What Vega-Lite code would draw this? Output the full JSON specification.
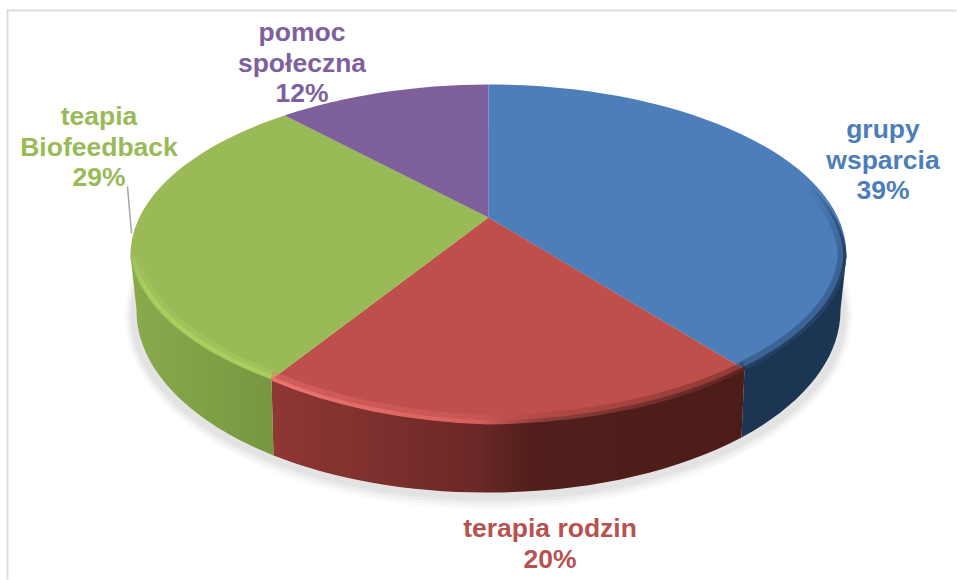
{"$schema":"https://vega.github.io/schema/vega-lite/v6.json","width":957,"height":580,"autosize":{"type":"fit","contains":"padding"},"padding":0,"background":"white","config":{"view":{"stroke":null}},"data":{"values":[{"kategoria":"grupy wsparcia","udzial":39,"etykieta":"grupy\nwsparcia\n39%"},{"kategoria":"terapia rodzin","udzial":20,"etykieta":"terapia rodzin\n20%"},{"kategoria":"teapia Biofeedback","udzial":29,"etykieta":"teapia\nBiofeedback\n29%"},{"kategoria":"pomoc społeczna","udzial":12,"etykieta":"pomoc\nspołeczna\n12%"}]},"layer":[
{"data":{"values":[{"element":"ramka"}]},"mark":{"type":"point","xOffset":3,"yOffset":3,"filled":false,"size":4,"opacity":1,"stroke":"#dcdcdc","strokeWidth":2,"shape":"M-470.5,290 L-470.5,-279 L478.5,-279"},"encoding":{}},
{"data":{"values":[{"element":"cien"}]},"mark":{"type":"point","xOffset":3,"yOffset":3,"filled":true,"size":4,"opacity":0.02,"fill":"#000000","shape":"M-353.5,26 A364,194 0 1 1 374.5,26 A364,194 0 1 1 -353.5,26 Z"},"encoding":{}},
{"data":{"values":[{"element":"cien"}]},"mark":{"type":"point","xOffset":3,"yOffset":3,"filled":true,"size":4,"opacity":0.025,"fill":"#000000","shape":"M-351.5,26 A362,191 0 1 1 372.5,26 A362,191 0 1 1 -351.5,26 Z"},"encoding":{}},
{"data":{"values":[{"element":"cien"}]},"mark":{"type":"point","xOffset":3,"yOffset":3,"filled":true,"size":4,"opacity":0.03,"fill":"#000000","shape":"M-349.5,26 A360,188 0 1 1 370.5,26 A360,188 0 1 1 -349.5,26 Z"},"encoding":{}},
{"data":{"values":[{"element":"cien"}]},"mark":{"type":"point","xOffset":3,"yOffset":3,"filled":true,"size":4,"opacity":0.035,"fill":"#000000","shape":"M-347.5,26 A358,185 0 1 1 368.5,26 A358,185 0 1 1 -347.5,26 Z"},"encoding":{}},
{"transform":[{"filter":"datum.kategoria === 'grupy wsparcia'"}],"mark":{"type":"point","xOffset":3,"yOffset":3,"filled":true,"size":4,"opacity":1,"fill":"#1c3553","shape":"M368.5,-34 L362.5,20 A352,183 0 0 1 263.5,148 L266.5,80 Z"},"encoding":{}},
{"transform":[{"filter":"datum.kategoria === 'terapia rodzin'"}],"mark":{"type":"point","xOffset":3,"yOffset":3,"filled":true,"size":4,"opacity":1,"fill":{"gradient":"linear","x1":0,"y1":0,"x2":1,"y2":0,"stops":[{"offset":0,"color":"#8f3734"},{"offset":0.2,"color":"#7f312e"},{"offset":0.44,"color":"#6b2827"},{"offset":0.55,"color":"#521f1c"},{"offset":1,"color":"#4b1c18"}]},"shape":"M266.5,80 L263.5,148 A352,183 0 0 1 10.5,203 A352,183 0 0 1 -204.5,166 L-206.5,90 Z"},"encoding":{}},
{"transform":[{"filter":"datum.kategoria === 'teapia Biofeedback'"}],"mark":{"type":"point","xOffset":3,"yOffset":3,"filled":true,"size":4,"opacity":1,"fill":{"gradient":"linear","x1":0,"y1":0,"x2":1,"y2":0,"stops":[{"offset":0,"color":"#88aa4c"},{"offset":1,"color":"#78963f"}]},"shape":"M-206.5,90 L-204.5,166 A352,183 0 0 1 -341.5,20 L-347.5,-34 Z"},"encoding":{}},
{"mark":{"type":"point","xOffset":3,"yOffset":3,"filled":true,"size":4,"opacity":1},"encoding":{"shape":{"field":"kategoria","type":"nominal","legend":null,"scale":{"domain":["grupy wsparcia","terapia rodzin","teapia Biofeedback","pomoc społeczna"],"range":["M10.5,-72 L10.5,-205 A358,170 0 0 1 368.5,-34 A358,170 0 0 1 266.5,80 Z","M10.5,-72 L266.5,80 A358,170 0 0 1 10.5,134 A358,170 0 0 1 -206.5,90 Z","M10.5,-72 L-206.5,90 A358,170 0 0 1 -347.5,-32 A358,170 0 0 1 -193.5,-174 Z","M10.5,-72 L-193.5,-174 A358,170 0 0 1 10.5,-205 Z"]}},"fill":{"field":"kategoria","type":"nominal","legend":null,"scale":{"domain":["grupy wsparcia","terapia rodzin","teapia Biofeedback","pomoc społeczna"],"range":["#4d7eba","#be4f4b","#9aba58","#7e609d"]}}}},
{"transform":[{"filter":"datum.kategoria === 'teapia Biofeedback'"}],"mark":{"type":"point","xOffset":3,"yOffset":3,"filled":false,"size":4,"opacity":0.4,"stroke":{"gradient":"linear","x1":0,"y1":0,"x2":0,"y2":1,"stops":[{"offset":0,"color":"rgba(168,210,95,0.2)"},{"offset":0.3,"color":"#a8d25f"},{"offset":1,"color":"#a8d25f"}]},"strokeWidth":9,"shape":"M-206.5,85 A358,170 0 0 1 -342,-34"},"encoding":{}},
{"transform":[{"filter":"datum.kategoria === 'teapia Biofeedback'"}],"mark":{"type":"point","xOffset":3,"yOffset":3,"filled":false,"size":4,"opacity":0.9,"stroke":{"gradient":"linear","x1":0,"y1":0,"x2":0,"y2":1,"stops":[{"offset":0,"color":"rgba(168,210,95,0.2)"},{"offset":0.3,"color":"#a8d25f"},{"offset":1,"color":"#a8d25f"}]},"strokeWidth":4,"shape":"M-206.5,87 A358,170 0 0 1 -345,-34"},"encoding":{}},
{"transform":[{"filter":"datum.kategoria === 'terapia rodzin'"}],"mark":{"type":"point","xOffset":3,"yOffset":3,"filled":false,"size":4,"opacity":0.4,"stroke":{"gradient":"linear","x1":0,"y1":0,"x2":1,"y2":0,"stops":[{"offset":0,"color":"#f07572"},{"offset":0.44,"color":"#d8605c"},{"offset":0.56,"color":"#a8443f"},{"offset":1,"color":"#4b1c18"}]},"strokeWidth":9,"shape":"M266.5,76 A358,170 0 0 1 10.5,130 A358,170 0 0 1 -206.5,86"},"encoding":{}},
{"transform":[{"filter":"datum.kategoria === 'terapia rodzin'"}],"mark":{"type":"point","xOffset":3,"yOffset":3,"filled":false,"size":4,"opacity":0.95,"stroke":{"gradient":"linear","x1":0,"y1":0,"x2":1,"y2":0,"stops":[{"offset":0,"color":"#f07572"},{"offset":0.44,"color":"#d8605c"},{"offset":0.56,"color":"#8f3e3a"},{"offset":1,"color":"#5a2320"}]},"strokeWidth":4,"shape":"M266.5,79 A358,170 0 0 1 10.5,133 A358,170 0 0 1 -206.5,89"},"encoding":{}},
{"transform":[{"filter":"datum.kategoria === 'grupy wsparcia'"}],"mark":{"type":"point","xOffset":3,"yOffset":3,"filled":false,"size":4,"opacity":0.35,"stroke":{"gradient":"linear","x1":0,"y1":0,"x2":0,"y2":1,"stops":[{"offset":0,"color":"rgba(28,53,83,0)"},{"offset":0.35,"color":"#1c3553"},{"offset":1,"color":"#1c3553"}]},"strokeWidth":8,"shape":"M329,-102 A354,166 0 0 1 364,-34 A354,166 0 0 1 263,76"},"encoding":{}},
{"transform":[{"filter":"datum.kategoria === 'grupy wsparcia'"}],"mark":{"type":"point","xOffset":3,"yOffset":3,"filled":false,"size":4,"opacity":0.8,"stroke":{"gradient":"linear","x1":0,"y1":0,"x2":0,"y2":1,"stops":[{"offset":0,"color":"rgba(28,53,83,0)"},{"offset":0.35,"color":"#1c3553"},{"offset":1,"color":"#1c3553"}]},"strokeWidth":3,"shape":"M332,-103 A357,169 0 0 1 367,-34 A357,169 0 0 1 265.5,79"},"encoding":{}},
{"data":{"values":[{"element":"linia"}]},"mark":{"type":"point","xOffset":3,"yOffset":3,"filled":false,"size":4,"opacity":1,"stroke":"#a6a6a6","strokeWidth":1.5,"shape":"M-350.5,-103 L-346.5,-56"},"encoding":{}},
{"mark":{"type":"text","font":"Liberation Sans","fontWeight":"bold","fontSize":26.5,"lineHeight":30.5,"lineBreak":"\n","align":"center","baseline":"alphabetic"},"encoding":{"x":{"field":"udzial","type":"quantitative","axis":null,"scale":{"domain":[12,20,29,39],"range":[302,550,99,883]}},"y":{"field":"udzial","type":"quantitative","axis":null,"scale":{"domain":[12,20,29,39],"range":[41,537,125,138]}},"text":{"field":"etykieta","type":"nominal"},"color":{"field":"kategoria","type":"nominal","legend":null,"scale":{"domain":["grupy wsparcia","terapia rodzin","teapia Biofeedback","pomoc społeczna"],"range":["#4d7eba","#b65250","#9aba58","#7e609d"]}}}}
]}
